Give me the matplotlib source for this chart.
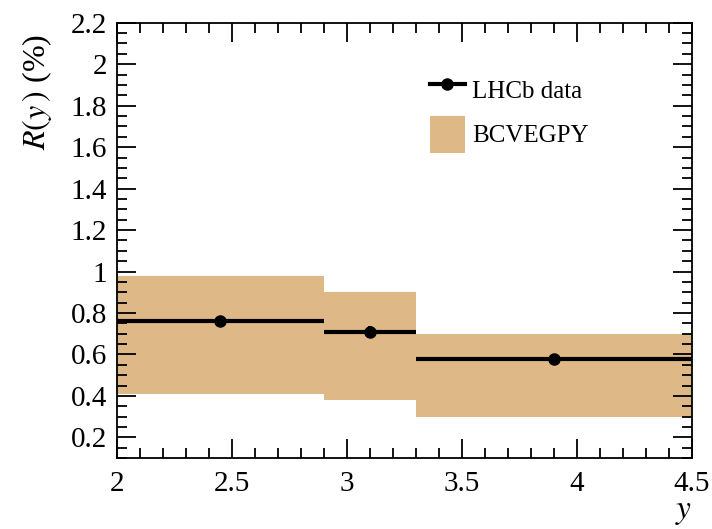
import matplotlib
matplotlib.use("Agg")
import matplotlib.pyplot as plt
from matplotlib.patches import Patch
from matplotlib.lines import Line2D
from matplotlib.ticker import MultipleLocator

plt.rcParams['font.family'] = ['Liberation Serif', 'DejaVu Serif']
plt.rcParams['mathtext.fontset'] = 'stix'

# Rapidity bins
bin_lo = [2.0, 2.9, 3.3]
bin_hi = [2.9, 3.3, 4.5]
# LHCb measurement
data_x = [2.45, 3.10, 3.90]
data_y = [0.76, 0.71, 0.58]
data_err = [0.025, 0.025, 0.015]
# BCVEGPY prediction band
theo_lo = [0.41, 0.38, 0.30]
theo_hi = [0.98, 0.90, 0.70]

band_color = '#deb887'

fig = plt.figure(figsize=(7.12, 5.29), dpi=100)
ax = fig.add_axes([0.164, 0.134, 0.808, 0.823])

for lo, hi, ylo, yhi in zip(bin_lo, bin_hi, theo_lo, theo_hi):
    ax.fill_between([lo, hi], [ylo, ylo], [yhi, yhi], color=band_color,
                    linewidth=0, zorder=1)

xerr_lo = [x - lo for x, lo in zip(data_x, bin_lo)]
xerr_hi = [hi - x for x, hi in zip(data_x, bin_hi)]
ax.errorbar(data_x, data_y, xerr=[xerr_lo, xerr_hi], yerr=data_err,
            fmt='o', color='black', markersize=8, elinewidth=3,
            capsize=0, zorder=3)

ax.set_xlim(2.0, 4.5)
ax.set_ylim(0.1, 2.2)

ax.xaxis.set_major_locator(MultipleLocator(0.5))
ax.xaxis.set_minor_locator(MultipleLocator(0.1))
ax.yaxis.set_major_locator(MultipleLocator(0.2))
ax.yaxis.set_minor_locator(MultipleLocator(0.05))
ax.tick_params(which='both', direction='in', top=True, right=True,
               labelsize=21, width=1.3)
ax.tick_params(axis='x', pad=9)
ax.tick_params(axis='y', pad=7)
ax.tick_params(which='major', length=14)
ax.tick_params(which='minor', length=7)

def fmt(v, _):
    s = f"{v:.1f}"
    return s[:-2] if s.endswith('.0') else s
ax.xaxis.set_major_formatter(plt.FuncFormatter(fmt))
ax.yaxis.set_major_formatter(plt.FuncFormatter(fmt))

for sp in ax.spines.values():
    sp.set_linewidth(1.3)

ax.set_xlabel(r'$y$', fontsize=24, loc='right', labelpad=0)
ax.set_ylabel(r'$R(y\,)$ (%)', fontsize=23, loc='top', labelpad=12)
ax.yaxis.label.set_y(0.975)

handles = [
    Line2D([], [], color='black', marker='o', markersize=8, linewidth=3),
    Patch(facecolor=band_color, edgecolor='none'),
]
ax.legend(handles, ['LHCb data', 'BCVEGPY'], loc='upper left',
          bbox_to_anchor=(0.544, 0.889), frameon=False, fontsize=18,
          borderpad=0, borderaxespad=0,
          handlelength=1.4, handleheight=1.9, handletextpad=0.3,
          labelspacing=0.3)

fig.savefig('out.png', dpi=100)
